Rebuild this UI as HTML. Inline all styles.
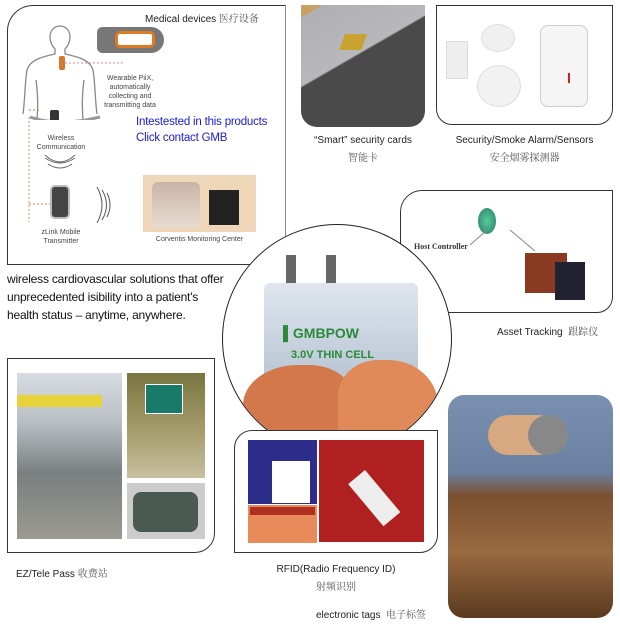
<!DOCTYPE html>
<html><head><meta charset="utf-8"><style>
*{margin:0;padding:0;box-sizing:border-box}
body{width:620px;height:628px;background:#fff;position:relative;overflow:hidden;font-family:"Liberation Sans","Noto Sans CJK SC",sans-serif;color:#222}
.a{position:absolute}
.t{position:absolute;white-space:nowrap;font-size:10px;color:#222}
.s{font-size:7px;color:#444;text-align:center;line-height:9px}
</style></head><body>

<div class="a" style="left:7px;top:5px;width:279px;height:260px;border:1.5px solid #333;border-radius:26px 0 0 0;border-right-color:#888"></div>
<div class="t" style="left:145px;top:10px;font-size:10px">Medical devices <span style="font-family:'Noto Serif CJK SC',serif;color:#555">医疗设备</span></div>
<svg class="a" style="left:20px;top:20px" width="90" height="100"><path d="M40 6c6 0 10 5 10 11s-3 10-5 12v5c14 3 25 6 28 16 2 10 2 30 4 44M40 6c-6 0-10 5-10 11s3 10 5 12v5c-14 3-25 6-28 16-2 10-2 30-4 44M16 60c2 15 2 25 1 40M64 60c-2 15-2 25-1 40" fill="none" stroke="#888" stroke-width="1.3"/><path d="M10 97q30 10 70 0" stroke="#999" stroke-width="3" fill="none"/><rect x="39" y="36" width="6" height="14" rx="2" fill="#d87830"/><rect x="30" y="90" width="9" height="14" rx="2" fill="#333"/></svg>
<svg class="a" style="left:14px;top:62px" width="120" height="160"><path d="M51 1h57v-9M15 55v150" stroke="#d88" stroke-dasharray="2 2" fill="none"/><path d="M15 48h10M15 142h28" stroke="#d87830" stroke-dasharray="2 2" fill="none"/></svg>
<div class="a" style="left:97px;top:27px;width:67px;height:26px;background:#777;border-radius:6px 14px 14px 6px"></div>
<div class="a" style="left:115px;top:31px;width:40px;height:17px;border:3px solid #e07a20;border-radius:5px;background:#fff"></div>
<div class="t s" style="left:100px;top:74px;width:60px">Wearable PiiX,<br>automatically<br>collecting and<br>transmitting data</div>
<div class="t" style="left:136px;top:114px;font-size:11.5px;color:#1a1acc;line-height:16px;letter-spacing:-0.2px">Intestested in this products<br>Click contact GMB</div>
<div class="t s" style="left:30px;top:134px;width:62px">Wireless<br>Communication</div>
<svg class="a" style="left:40px;top:155px" width="40" height="20"><path d="M5 3q15 10 30 0M8 9q12 8 24 0M3 -2q17 18 34 0" stroke="#666" fill="none"/></svg>
<div class="a" style="left:50px;top:185px;width:20px;height:34px;background:#444;border-radius:5px;border:2px solid #bbb"></div>
<svg class="a" style="left:95px;top:185px" width="20" height="40"><path d="M2 2q10 18 0 36M7 5q9 15 0 30M12 8q6 12 0 24" stroke="#555" fill="none"/></svg>
<div class="t s" style="left:30px;top:228px;width:62px">zLink Mobile<br>Transmitter</div>
<div class="a" style="left:143px;top:175px;width:113px;height:57px;background:#efd6b8"></div>
<div class="a" style="left:152px;top:182px;width:48px;height:46px;background:linear-gradient(#c9b4a6,#e8dcd2);border-radius:6px"></div>
<div class="a" style="left:209px;top:190px;width:30px;height:35px;background:#222"></div>
<div class="t s" style="left:143px;top:235px;width:113px">Corventis Monitoring Center</div>

<div class="t" style="left:7px;top:270px;font-size:12px;line-height:18px;color:#111;letter-spacing:-0.2px">wireless cardiovascular solutions that offer<br>unprecedented isibility into a patient's<br>health status – anytime, anywhere.</div>

<div class="a" style="left:301px;top:5px;width:124px;height:122px;background:linear-gradient(150deg,#c8a060 0,#c8a060 6%,#b0b0b4 7%,#b8b8bc 42%,#4a4a4a 43%);border-radius:0 0 16px 16px;overflow:hidden"></div>
<div class="a" style="left:342px;top:34px;width:22px;height:16px;background:#c9a230;transform:skew(-20deg)"></div>
<div class="t" style="left:301px;top:133px;width:124px;text-align:center;line-height:16px">“Smart” security cards<br><span style="font-family:'Noto Serif CJK SC',serif;color:#555">智能卡</span></div>

<div class="a" style="left:436px;top:5px;width:177px;height:120px;border:1.5px solid #333;border-radius:0 0 16px 16px"></div>
<div class="a" style="left:446px;top:41px;width:22px;height:38px;background:#eee;border:1px solid #ddd"></div>
<div class="a" style="left:481px;top:24px;width:34px;height:28px;background:#f0f0f0;border-radius:50%;border:1px solid #ddd"></div>
<div class="a" style="left:477px;top:65px;width:44px;height:42px;background:#f2f2f2;border-radius:50%;border:1px solid #ddd"></div>
<div class="a" style="left:540px;top:25px;width:48px;height:82px;background:#f5f5f5;border-radius:8px;border:1px solid #ccc"></div>
<div class="a" style="left:568px;top:73px;width:2px;height:10px;background:#c22"></div>
<div class="t" style="left:436px;top:133px;width:177px;text-align:center;line-height:16px">Security/Smoke Alarm/Sensors<br><span style="font-family:'Noto Serif CJK SC',serif;color:#555">安全烟雾探测器</span></div>

<div class="a" style="left:400px;top:190px;width:213px;height:123px;border:1.5px solid #333;border-radius:22px 0 16px 0"></div>
<div class="a" style="left:478px;top:208px;width:18px;height:26px;background:radial-gradient(#5c9,#2a7a6a);border-radius:50%"></div>
<svg class="a" style="left:440px;top:225px" width="100" height="40"><path d="M30 20L47 5M70 5L95 26" stroke="#888"/></svg>
<div class="t" style="left:414px;top:242px;font-size:8px;font-weight:bold;font-family:'Liberation Serif',serif;color:#333">Host Controller</div>
<div class="a" style="left:525px;top:253px;width:42px;height:40px;background:#8a3a20"></div>
<div class="a" style="left:555px;top:262px;width:30px;height:38px;background:#223"></div>
<div class="t" style="left:497px;top:323px;font-size:10px">Asset Tracking &nbsp;<span style="font-family:'Noto Serif CJK SC',serif;color:#555">跟踪仪</span></div>

<div class="a" style="left:222px;top:224px;width:230px;height:230px;border:1.5px solid #222;border-radius:50%;overflow:hidden;background:#fff">
 <div class="a" style="left:63px;top:30px;width:10px;height:30px;background:#666"></div>
 <div class="a" style="left:103px;top:30px;width:10px;height:30px;background:#666"></div>
 <div class="a" style="left:41px;top:58px;width:154px;height:125px;background:linear-gradient(#dfe6ee,#aebccc);border-radius:6px"></div>
 <div class="t" style="left:60px;top:100px;font-size:14px;font-weight:bold;color:#2a8a3a">▌GMBPOW</div>
 <div class="t" style="left:68px;top:124px;font-size:11px;font-weight:bold;color:#2a8a3a">3.0V THIN CELL</div>
 <div class="a" style="left:20px;top:140px;width:110px;height:80px;background:#d2784a;border-radius:50% 40% 0 0"></div>
 <div class="a" style="left:115px;top:135px;width:100px;height:90px;background:#e08a5a;border-radius:40% 50% 0 0"></div>
</div>

<div class="a" style="left:7px;top:358px;width:208px;height:195px;border:1.5px solid #333;border-radius:0 0 20px 0"></div>
<div class="a" style="left:17px;top:373px;width:105px;height:166px;background:linear-gradient(#d8dde2 0,#b8bec4 30%,#7a7f80 60%,#9a9a90 100%)"></div>
<div class="a" style="left:17px;top:395px;width:85px;height:12px;background:#e8d23a"></div>
<div class="a" style="left:127px;top:373px;width:78px;height:105px;background:linear-gradient(#7a7640,#a8a070 60%,#c8c0a0)"></div>
<div class="a" style="left:145px;top:384px;width:38px;height:30px;background:#1a7a6a;border:1px solid #fff"></div>
<div class="a" style="left:127px;top:483px;width:78px;height:56px;background:#ccc"></div>
<div class="a" style="left:133px;top:492px;width:65px;height:40px;background:#4a5a50;border-radius:8px"></div>
<div class="t" style="left:16px;top:565px;font-size:10px">EZ/Tele Pass <span style="font-family:'Noto Serif CJK SC',serif;color:#555">收费站</span></div>

<div class="a" style="left:234px;top:430px;width:204px;height:123px;border:1.5px solid #333;border-radius:18px 0 18px 0;background:#fff"></div>
<div class="a" style="left:248px;top:440px;width:69px;height:64px;background:#2c2c8a"></div>
<div class="a" style="left:272px;top:461px;width:38px;height:42px;background:#fff"></div>
<div class="a" style="left:248px;top:505px;width:69px;height:38px;background:#e88a5a"></div>
<div class="a" style="left:250px;top:507px;width:65px;height:8px;background:#b03020"></div>
<div class="a" style="left:319px;top:440px;width:105px;height:102px;background:#b02020"></div>
<div class="a" style="left:365px;top:470px;width:55px;height:22px;background:#eee;transform:rotate(50deg);transform-origin:left top"></div>
<div class="t" style="left:234px;top:562px;width:204px;text-align:center;line-height:16px;font-size:10px">RFID(Radio Frequency ID)<br><span style="font-family:'Noto Serif CJK SC',serif;color:#555">射频识别</span></div>

<div class="a" style="left:448px;top:395px;width:165px;height:223px;border-radius:16px;overflow:hidden;background:linear-gradient(#7a90b0,#6a80a0 35%,#7a5030 45%,#9a6a40 70%,#5a3a20)">
 <div class="a" style="left:40px;top:20px;width:70px;height:40px;background:#d8a880;border-radius:20px"></div>
 <div class="a" style="left:80px;top:20px;width:40px;height:40px;background:#888;border-radius:50%"></div>
</div>
<div class="t" style="left:316px;top:606px;font-size:10px">electronic tags &nbsp;<span style="font-family:'Noto Serif CJK SC',serif;color:#555">电子标签</span></div>
</body></html>
